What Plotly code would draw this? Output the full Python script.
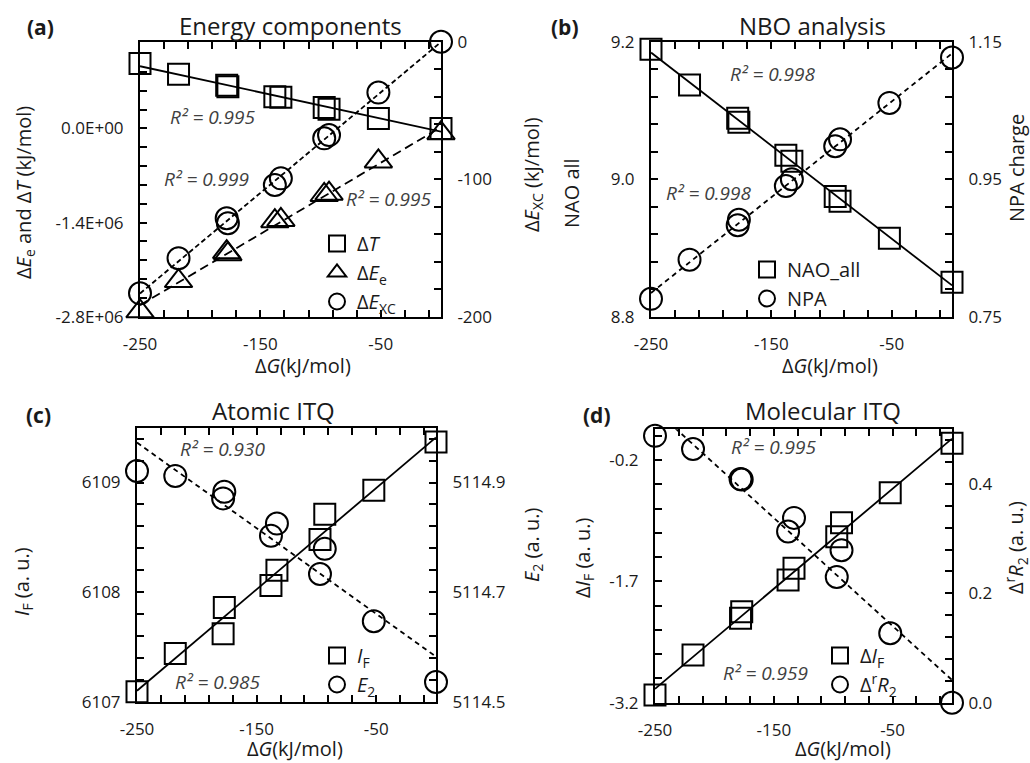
import numpy as np
import plotly.graph_objects as go

W, H = 1030, 763

# ---------------- data ----------------
dG = [-250, -218, -178, -177, -138, -133, -97, -93, -52, 0]

# (a) Energy components
dT = [0.966e6, 0.807e6, 0.644e6, 0.62e6, 0.47e6, 0.465e6, 0.312e6, 0.287e6, 0.149e6, 0.0]
dEe = [-2.72e6, -2.27e6, -1.84e6, -1.87e6, -1.38e6, -1.36e6, -0.99e6, -0.97e6, -0.49e6, -0.07e6]
dExc = [-183, -157.5, -128.4, -132, -104.2, -99.4, -70.3, -67.9, -37, 0]

# (b) NBO analysis
nao_all = [9.189, 9.137, 9.0885, 9.083, 9.035, 9.026, 8.975, 8.968, 8.914, 8.850]
npa = [0.776, 0.833, 0.883, 0.891, 0.940, 0.950, 0.998, 1.008, 1.061, 1.127]

# (c) Atomic ITQ
I_F = [6107.09, 6107.44, 6107.62, 6107.86, 6108.06, 6108.20, 6108.48, 6108.71, 6108.93, 6109.37]
E_2 = [5114.921, 5114.912, 5114.871, 5114.883, 5114.803, 5114.825, 5114.733, 5114.779, 5114.647, 5114.536]

# (d) Molecular ITQ
dI_F = [-3.105, -2.611, -2.157, -2.075, -1.683, -1.539, -1.148, -0.975, -0.604, 0.006]
dR2 = [0.488, 0.464, 0.409, 0.408, 0.313, 0.338, 0.230, 0.279, 0.127, 0.0]

# tick labels
x_tickvals = [-250, -150, -50]
x_ticktext = ["-250", "-150", "-50"]
a_left_vals = [-2.8e6, -1.4e6, 0.0]
a_left_text = ["-2.8E+06", "-1.4E+06", "0.0E+00"]
a_right_vals = [-200, -100, 0]
a_right_text = ["-200", "-100", "0"]
b_left_vals = [8.8, 9.0, 9.2]
b_left_text = ["8.8", "9.0", "9.2"]
b_right_vals = [0.75, 0.95, 1.15]
b_right_text = ["0.75", "0.95", "1.15"]
c_left_vals = [6107, 6108, 6109]
c_left_text = ["6107", "6108", "6109"]
c_right_vals = [5114.5, 5114.7, 5114.9]
c_right_text = ["5114.5", "5114.7", "5114.9"]
d_left_vals = [-3.2, -1.7, -0.2]
d_left_text = ["-3.2", "-1.7", "-0.2"]
d_right_vals = [0.0, 0.2, 0.4]
d_right_text = ["0.0", "0.2", "0.4"]

FONT = "Open Sans"
TXT = "#1a1a1a"


def px_x(p):
    return p / W


def px_y(p):
    return 1 - p / H


fig = go.Figure()


def fit_line(x, y):
    k, b = np.polyfit(x, y, 1)
    xs = np.array([min(x), max(x)], dtype=float)
    return xs, k * xs + b


def add_series(x, y, xa, ya, symbol, size, name, legend, group, dash):
    xs, ys = fit_line(x, y)
    fig.add_trace(go.Scatter(x=xs, y=ys, xaxis=xa, yaxis=ya, mode="lines",
                             line=dict(color="black", width=1.8, dash=dash),
                             showlegend=False, hoverinfo="skip"))
    fig.add_trace(go.Scatter(x=x, y=y, xaxis=xa, yaxis=ya, mode="markers",
                             marker=dict(symbol=symbol, size=size, color="black",
                                         line=dict(color="black", width=2)),
                             name=name, legend=legend, legendgroup=group,
                             cliponaxis=False))


# (a)
add_series(dG, dT, "x", "y", "square-open", 21, "Δ<i>T</i>", "legend", "a1", "solid")
add_series(dG, dEe, "x", "y", "triangle-up-open", 24, "Δ<i>E</i><sub>e</sub>", "legend", "a2", "9px,5px")
add_series(dG, dExc, "x", "y2", "circle-open", 22, "Δ<i>E</i><sub>XC</sub>", "legend", "a3", "5px,3px")
# (b)
add_series(dG, nao_all, "x2", "y3", "square-open", 21, "NAO_all", "legend2", "b1", "solid")
add_series(dG, npa, "x2", "y4", "circle-open", 22, "NPA", "legend2", "b2", "5px,4px")
# (c)
add_series(dG, I_F, "x3", "y5", "square-open", 21, "<i>I</i><sub>F</sub>", "legend3", "c1", "solid")
add_series(dG, E_2, "x3", "y6", "circle-open", 22, "<i>E</i><sub>2</sub>", "legend3", "c2", "5px,4px")
# (d)
add_series(dG, dI_F, "x4", "y7", "square-open", 21, "Δ<i>I</i><sub>F</sub>", "legend4", "d1", "solid")
add_series(dG, dR2, "x4", "y8", "circle-open", 22, "Δ<sup>r</sup><i>R</i><sub>2</sub>", "legend4", "d2", "5px,4px")

tickfont = dict(family=FONT, size=17, color=TXT)


def axis_common(domain, rng, vals, text, minor_tick0, minor_dtick, standoff=11, **kw):
    d = dict(domain=domain, range=rng, tickmode="array", tickvals=vals, ticktext=text,
             showline=True, linecolor="black", linewidth=2,
             ticks="inside", ticklen=7, tickwidth=2, tickcolor="black",
             showgrid=False, zeroline=False, tickfont=tickfont,
             ticklabelstandoff=standoff,
             minor=dict(ticks="inside", ticklen=7, tickwidth=2, tickcolor="black",
                        tickmode="linear", tick0=minor_tick0, dtick=minor_dtick, showgrid=False))
    d.update(kw)
    return d


panels = {
    "a": dict(x=(140, 441), y=(41.7, 316.7)),
    "b": dict(x=(651, 952), y=(41.7, 316.7)),
    "c": dict(x=(137, 436), y=(427.7, 701.7)),
    "d": dict(x=(655, 952), y=(429.3, 702.7)),
}


def xdom(p):
    return [px_x(panels[p]["x"][0]), px_x(panels[p]["x"][1])]


def ydom(p):
    return [px_y(panels[p]["y"][1]), px_y(panels[p]["y"][0])]


layout = dict(width=W, height=H, margin=dict(l=0, r=0, t=0, b=0, autoexpand=False),
              paper_bgcolor="white", plot_bgcolor="rgba(0,0,0,0)", showlegend=True,
              font=dict(family=FONT, color=TXT))

for i, p in enumerate("abcd"):
    xname = "xaxis" if i == 0 else f"xaxis{i + 1}"
    yl = f"y{2 * i + 1}" if i > 0 else "y"
    layout[xname] = axis_common(xdom(p), [-250, 0], x_tickvals, x_ticktext, -250, 20,
                                standoff=11, anchor=yl, mirror="ticks")

layout["yaxis"] = axis_common(ydom("a"), [-2.8e6, 1.29e6], a_left_vals, a_left_text, -2.8e6, 0.28e6,
                              anchor="x", mirror=True)
layout["yaxis2"] = axis_common(ydom("a"), [-200, 0], a_right_vals, a_right_text, -200, 20,
                               anchor="x", overlaying="y", side="right")
layout["yaxis3"] = axis_common(ydom("b"), [8.8, 9.2], b_left_vals, b_left_text, 8.8, 0.04,
                               anchor="x2", mirror=True)
layout["yaxis4"] = axis_common(ydom("b"), [0.75, 1.15], b_right_vals, b_right_text, 0.75, 0.04,
                               anchor="x2", overlaying="y3", side="right")
layout["yaxis5"] = axis_common(ydom("c"), [6107, 6109.5], c_left_vals, c_left_text, 6107, 0.2,
                               anchor="x3", mirror=True)
layout["yaxis6"] = axis_common(ydom("c"), [5114.5, 5115.0], c_right_vals, c_right_text, 5114.5, 0.04,
                               anchor="x3", overlaying="y5", side="right")
layout["yaxis7"] = axis_common(ydom("d"), [-3.2, 0.18], d_left_vals, d_left_text, -3.2, 0.3,
                               anchor="x4", mirror=True)
layout["yaxis8"] = axis_common(ydom("d"), [0.0, 0.5], d_right_vals, d_right_text, 0.0, 0.04,
                               anchor="x4", overlaying="y7", side="right")

legfont = dict(family=FONT, size=20, color=TXT)


def legend_at(xp, yp):
    return dict(x=px_x(xp), y=px_y(yp), xanchor="left", yanchor="top",
                bgcolor="rgba(0,0,0,0)", borderwidth=0, font=legfont,
                tracegroupgap=0, itemclick=False)


layout["legend"] = legend_at(317, 224)
layout["legend2"] = legend_at(747, 250)
layout["legend3"] = legend_at(317, 636)
layout["legend4"] = legend_at(820, 636)

fig.update_layout(**layout)

anns = []


def ann(text, xp, yp, size, angle=0, bold=False, color=TXT, italic=False):
    t = text
    if bold:
        t = f"<b>{t}</b>"
    if italic:
        t = f"<i>{t}</i>"
    anns.append(dict(text=t, x=px_x(xp), y=px_y(yp), xref="paper", yref="paper",
                     showarrow=False, xanchor="center", yanchor="middle", textangle=angle,
                     font=dict(family=FONT, size=size, color=color)))


# titles
ann("Energy components", 290, 25, 24)
ann("NBO analysis", 812, 25, 24)
ann("Atomic ITQ", 273, 410, 24)
ann("Molecular ITQ", 823, 410, 24)
# panel labels
ann("(a)", 40, 27, 21, bold=True)
ann("(b)", 565, 27, 21, bold=True)
ann("(c)", 38, 415, 21, bold=True)
ann("(d)", 597, 415, 21, bold=True)
# x titles
xt = "Δ<i>G</i>(kJ/mol)"
ann(xt, 303, 365, 20)
ann(xt, 830, 365, 20)
ann(xt, 295, 748, 20)
ann(xt, 843, 748, 20)
# y titles
ann("Δ<i>E</i><sub>e</sub> and Δ<i>T</i> (kJ/mol)", 25, 193, 20, angle=-90)
ann("Δ<i>E</i><sub>XC</sub> (kJ/mol)", 533, 175, 20, angle=-90)
ann("NAO all", 572, 193, 20, angle=-90)
ann("NPA charge", 1016, 168, 20, angle=-90)
ann("<i>I</i><sub>F</sub> (a. u.)", 22, 582, 20, angle=-90)
ann("<i>E</i><sub>2</sub> (a. u.)", 532, 545, 20, angle=-90)
ann("Δ<i>I</i><sub>F</sub> (a. u.)", 583, 558, 20, angle=-90)
ann("Δ<sup>r</sup><i>R</i><sub>2</sub> (a. u.)", 1016, 548, 20, angle=-90)
# R^2
RC = "#404040"
ann("R² = 0.995", 212, 117, 19, italic=True, color=RC)
ann("R² = 0.999", 206, 179, 19, italic=True, color=RC)
ann("R² = 0.995", 388, 199, 19, italic=True, color=RC)
ann("R² = 0.998", 772, 74, 19, italic=True, color=RC)
ann("R² = 0.998", 708, 193, 19, italic=True, color=RC)
ann("R² = 0.930", 222, 449, 19, italic=True, color=RC)
ann("R² = 0.985", 217, 682, 19, italic=True, color=RC)
ann("R² = 0.995", 773, 447, 19, italic=True, color=RC)
ann("R² = 0.959", 765, 673, 19, italic=True, color=RC)

fig.update_layout(annotations=anns)
fig.write_html("out.html", config={"displayModeBar": False},
               post_script="document.body.style.margin='0px';")
